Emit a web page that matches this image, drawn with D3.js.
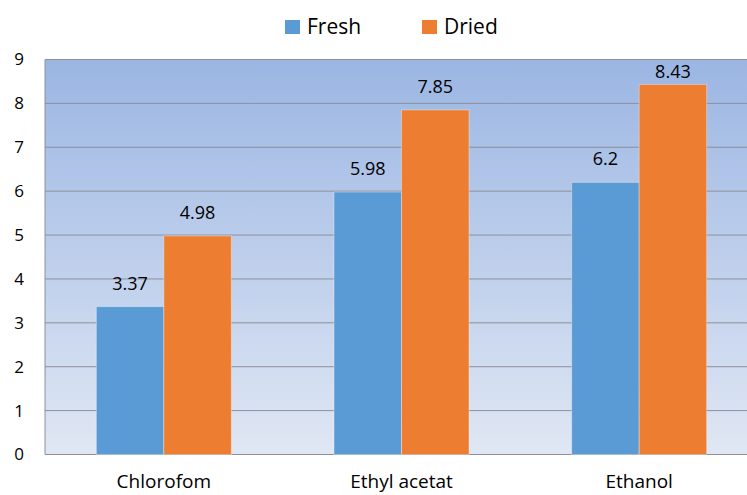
<!DOCTYPE html>
<meta charset="utf-8">
<script src="https://d3js.org/d3.v7.min.js"></script>
<style>
body { margin: 0; background: #fff; }
text { font-family: "Open Sans", "DejaVu Sans", sans-serif; fill: #000; }
</style>
<svg id="chart" width="747" height="495"></svg>
<script>
// data
var categories = ["Chlorofom", "Ethyl acetat", "Ethanol"];
var series = ["Fresh", "Dried"];
var fresh = [3.37, 5.98, 6.2];
var dried = [4.98, 7.85, 8.43];
var yTicks = [0, 1, 2, 3, 4, 5, 6, 7, 8, 9];
var colors = ["#5b9bd5", "#ed7d31"];

var svg = d3.select("#chart").style("overflow", "hidden");

var plotLeft = 45, plotRight = 758, plotTop = 59.5, plotBottom = 454.5;

var x = d3.scaleBand().domain(categories).range([plotLeft, plotRight])
    .paddingInner(0.432).paddingOuter(0.216);
var xs = d3.scaleBand().domain(series).range([0, x.bandwidth()]);
var y = d3.scaleLinear().domain([0, 9]).range([plotBottom, plotTop]);

// background gradient
var grad = svg.append("defs").append("linearGradient")
    .attr("id", "bg").attr("x1", 0).attr("y1", 0).attr("x2", 0).attr("y2", 1);
grad.append("stop").attr("offset", "0%").attr("stop-color", "#9bb6e3");
grad.append("stop").attr("offset", "100%").attr("stop-color", "#e0e7f4");

svg.append("rect")
    .attr("x", plotLeft).attr("y", plotTop)
    .attr("width", plotRight - plotLeft).attr("height", plotBottom - plotTop)
    .attr("fill", "url(#bg)");

// gridlines
svg.append("g").selectAll("line")
  .data(yTicks)
  .enter().append("line")
    .attr("x1", plotLeft).attr("x2", plotRight)
    .attr("y1", function(d){ return y(d); })
    .attr("y2", function(d){ return y(d); })
    .attr("stroke", "#8c9099").attr("stroke-width", 1);

// left border
svg.append("line")
    .attr("x1", plotLeft).attr("x2", plotLeft).attr("y1", plotTop).attr("y2", plotBottom)
    .attr("stroke", "#8c9099");

// bars
var rows = categories.map(function(c, i){ return {cat: c, vals: [fresh[i], dried[i]]}; });
var groups = svg.append("g").selectAll("g")
  .data(rows)
  .enter().append("g")
    .attr("transform", function(d){ return "translate(" + x(d.cat) + ",0)"; });

groups.selectAll("rect")
  .data(function(d){ return d.vals.map(function(v, j){ return {s: series[j], v: v, j: j}; }); })
  .enter().append("rect")
    .attr("x", function(d){ return xs(d.s); })
    .attr("y", function(d){ return y(d.v); })
    .attr("width", xs.bandwidth())
    .attr("height", function(d){ return y(0) - y(d.v); })
    .attr("fill", function(d){ return colors[d.j]; })
    .attr("stroke", "rgba(255,255,255,0.35)").attr("stroke-width", 1);

// value labels, kept inside the plot area like Excel does
groups.selectAll("text")
  .data(function(d){ return d.vals.map(function(v, j){ return {s: series[j], v: v}; }); })
  .enter().append("text")
    .attr("x", function(d){ return xs(d.s) + xs.bandwidth() / 2; })
    .attr("y", function(d){ return Math.max(y(d.v) - 17, plotTop + 18.5); })
    .attr("text-anchor", "middle")
    .style("font-size", "18px")
    .text(function(d){ return d.v; });

// y axis labels
svg.append("g").selectAll("text")
  .data(yTicks)
  .enter().append("text")
    .attr("x", 24)
    .attr("y", function(d){ return y(d); })
    .attr("dy", "0.35em")
    .attr("text-anchor", "end")
    .style("font-size", "17px")
    .text(function(d){ return d; });

// x axis labels
svg.append("g").selectAll("text")
  .data(categories)
  .enter().append("text")
    .attr("x", function(d){ return x(d) + x.bandwidth() / 2; })
    .attr("y", 488)
    .attr("text-anchor", "middle")
    .style("font-size", "19px")
    .text(function(d){ return d; });

// legend
var legX = [285, 422];
var leg = svg.append("g").selectAll("g")
  .data(series)
  .enter().append("g")
    .attr("transform", function(d, i){ return "translate(" + legX[i] + ",20)"; });
leg.append("rect")
    .attr("width", 15).attr("height", 14)
    .attr("fill", function(d, i){ return colors[i]; });
leg.append("text")
    .attr("x", 22).attr("y", 14)
    .style("font-size", "21px")
    .text(function(d){ return d; });
</script>
